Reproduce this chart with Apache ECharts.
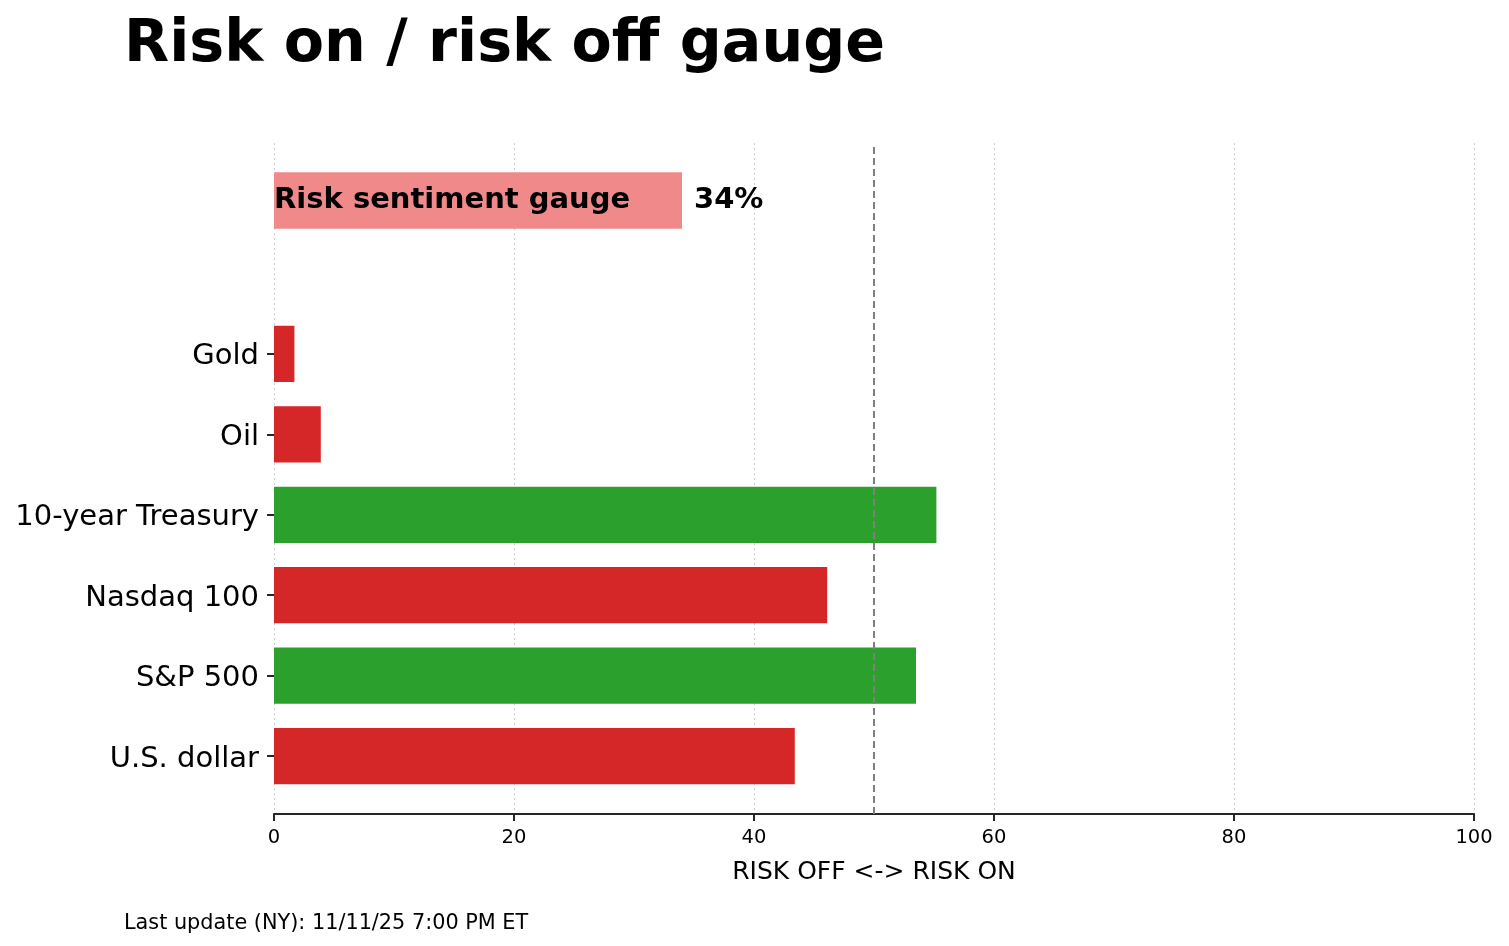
<!DOCTYPE html>
<html>
<head>
<meta charset="utf-8">
<script src="https://cdn.jsdelivr.net/npm/echarts@6/dist/echarts.min.js"></script>
<style>html,body{margin:0;padding:0;background:#fff;}#c{width:1509px;height:946px;}</style>
</head>
<body>
<div id="c"></div>
<script>
const categories = ['U.S. dollar', 'S&P 500', 'Nasdaq 100', '10-year Treasury', 'Oil', 'Gold'];
const values = [43.4, 53.5, 46.1, 55.2, 3.9, 1.7];
const gaugeLabel = 'Risk sentiment gauge';
const gaugeValue = 34;
const xTicks = [0, 20, 40, 60, 80, 100];
const neutralLine = 50;

const FONT = 'DejaVu Sans';
const RED = '#d62728', GREEN = '#2ca02c', LIGHT = '#f08a8a';
const L = 274, R = 35;

const chart = echarts.init(document.getElementById('c'), null, {renderer: 'canvas'});
const hiddenX = (gi) => ({type: 'value', gridIndex: gi, min: 0, max: 100, show: false});

chart.setOption({
  animation: false,
  backgroundColor: '#fff',
  title: [
    {text: 'Risk on / risk off gauge', left: 119, top: 11,
     textStyle: {fontFamily: FONT, fontWeight: 'bold', fontSize: 58.7, color: '#000'}},
    {text: 'Last update (NY): 11/11/25 7:00 PM ET', left: 119, top: 908,
     textStyle: {fontFamily: FONT, fontWeight: 'normal', fontSize: 20.8, color: '#000'}}
  ],
  grid: [
    {left: L, right: R, top: 143, bottom: 132},
    {left: L, right: R, top: 313.75, height: 482.5},
    {left: L, right: R, top: 160.25, height: 80.5}
  ],
  xAxis: [
    {type: 'value', gridIndex: 0, min: 0, max: 100, interval: 20,
     axisLine: {show: true, lineStyle: {color: '#262626', width: 2}},
     axisTick: {show: true, length: 7, lineStyle: {color: '#262626', width: 2}},
     axisLabel: {fontFamily: FONT, fontSize: 19.5, color: '#000', margin: 14,
       formatter: v => xTicks.includes(v) ? String(v) : ''},
     splitLine: {show: true, lineStyle: {color: '#cccccc', type: [2, 3], width: 1}},
     name: 'RISK OFF <-> RISK ON', nameLocation: 'middle', nameGap: 46,
     nameTextStyle: {fontFamily: FONT, fontSize: 25, color: '#000'}},
    hiddenX(1), hiddenX(2)
  ],
  yAxis: [
    {type: 'value', gridIndex: 0, min: 0, max: 1, show: false},
    {type: 'category', gridIndex: 1, data: categories,
     axisLine: {show: false},
     axisTick: {show: true, alignWithLabel: true, length: 7, lineStyle: {color: '#262626', width: 2}},
     axisLabel: {margin: 15, formatter: '{a|{value}}',
       rich: {a: {fontFamily: FONT, fontSize: 29, color: '#000', padding: [6, 0, 0, 0]}}}},
    {type: 'category', gridIndex: 2, data: [gaugeLabel], show: false}
  ],
  series: [
    {type: 'bar', xAxisIndex: 1, yAxisIndex: 1, barWidth: '70%', z: 2,
     data: values.map(v => ({value: v, itemStyle: {color: v > neutralLine ? GREEN : RED}}))},
    {type: 'bar', xAxisIndex: 2, yAxisIndex: 2, barWidth: '70%', z: 2,
     itemStyle: {color: LIGHT},
     label: {show: true, position: 'insideLeft', distance: 0, formatter: gaugeLabel, padding: [2, 0, 0, 0],
       fontFamily: FONT, fontWeight: 'bold', fontSize: 29, color: '#000'},
     data: [gaugeValue]},
    {type: 'bar', xAxisIndex: 2, yAxisIndex: 2, barWidth: '70%', barGap: '-100%', z: 3,
     itemStyle: {color: 'rgba(0,0,0,0)'},
     label: {show: true, position: 'right', distance: 12, formatter: '{c}%', padding: [2, 0, 0, 0],
       fontFamily: FONT, fontWeight: 'bold', fontSize: 29, color: '#000'},
     data: [gaugeValue]},
    {type: 'line', xAxisIndex: 0, yAxisIndex: 0, z: 10, symbol: 'none', silent: true,
     lineStyle: {color: '#808080', width: 2, type: [7, 4]},
     data: [[neutralLine, 0], [neutralLine, 1]]}
  ]
});
</script>
</body>
</html>
